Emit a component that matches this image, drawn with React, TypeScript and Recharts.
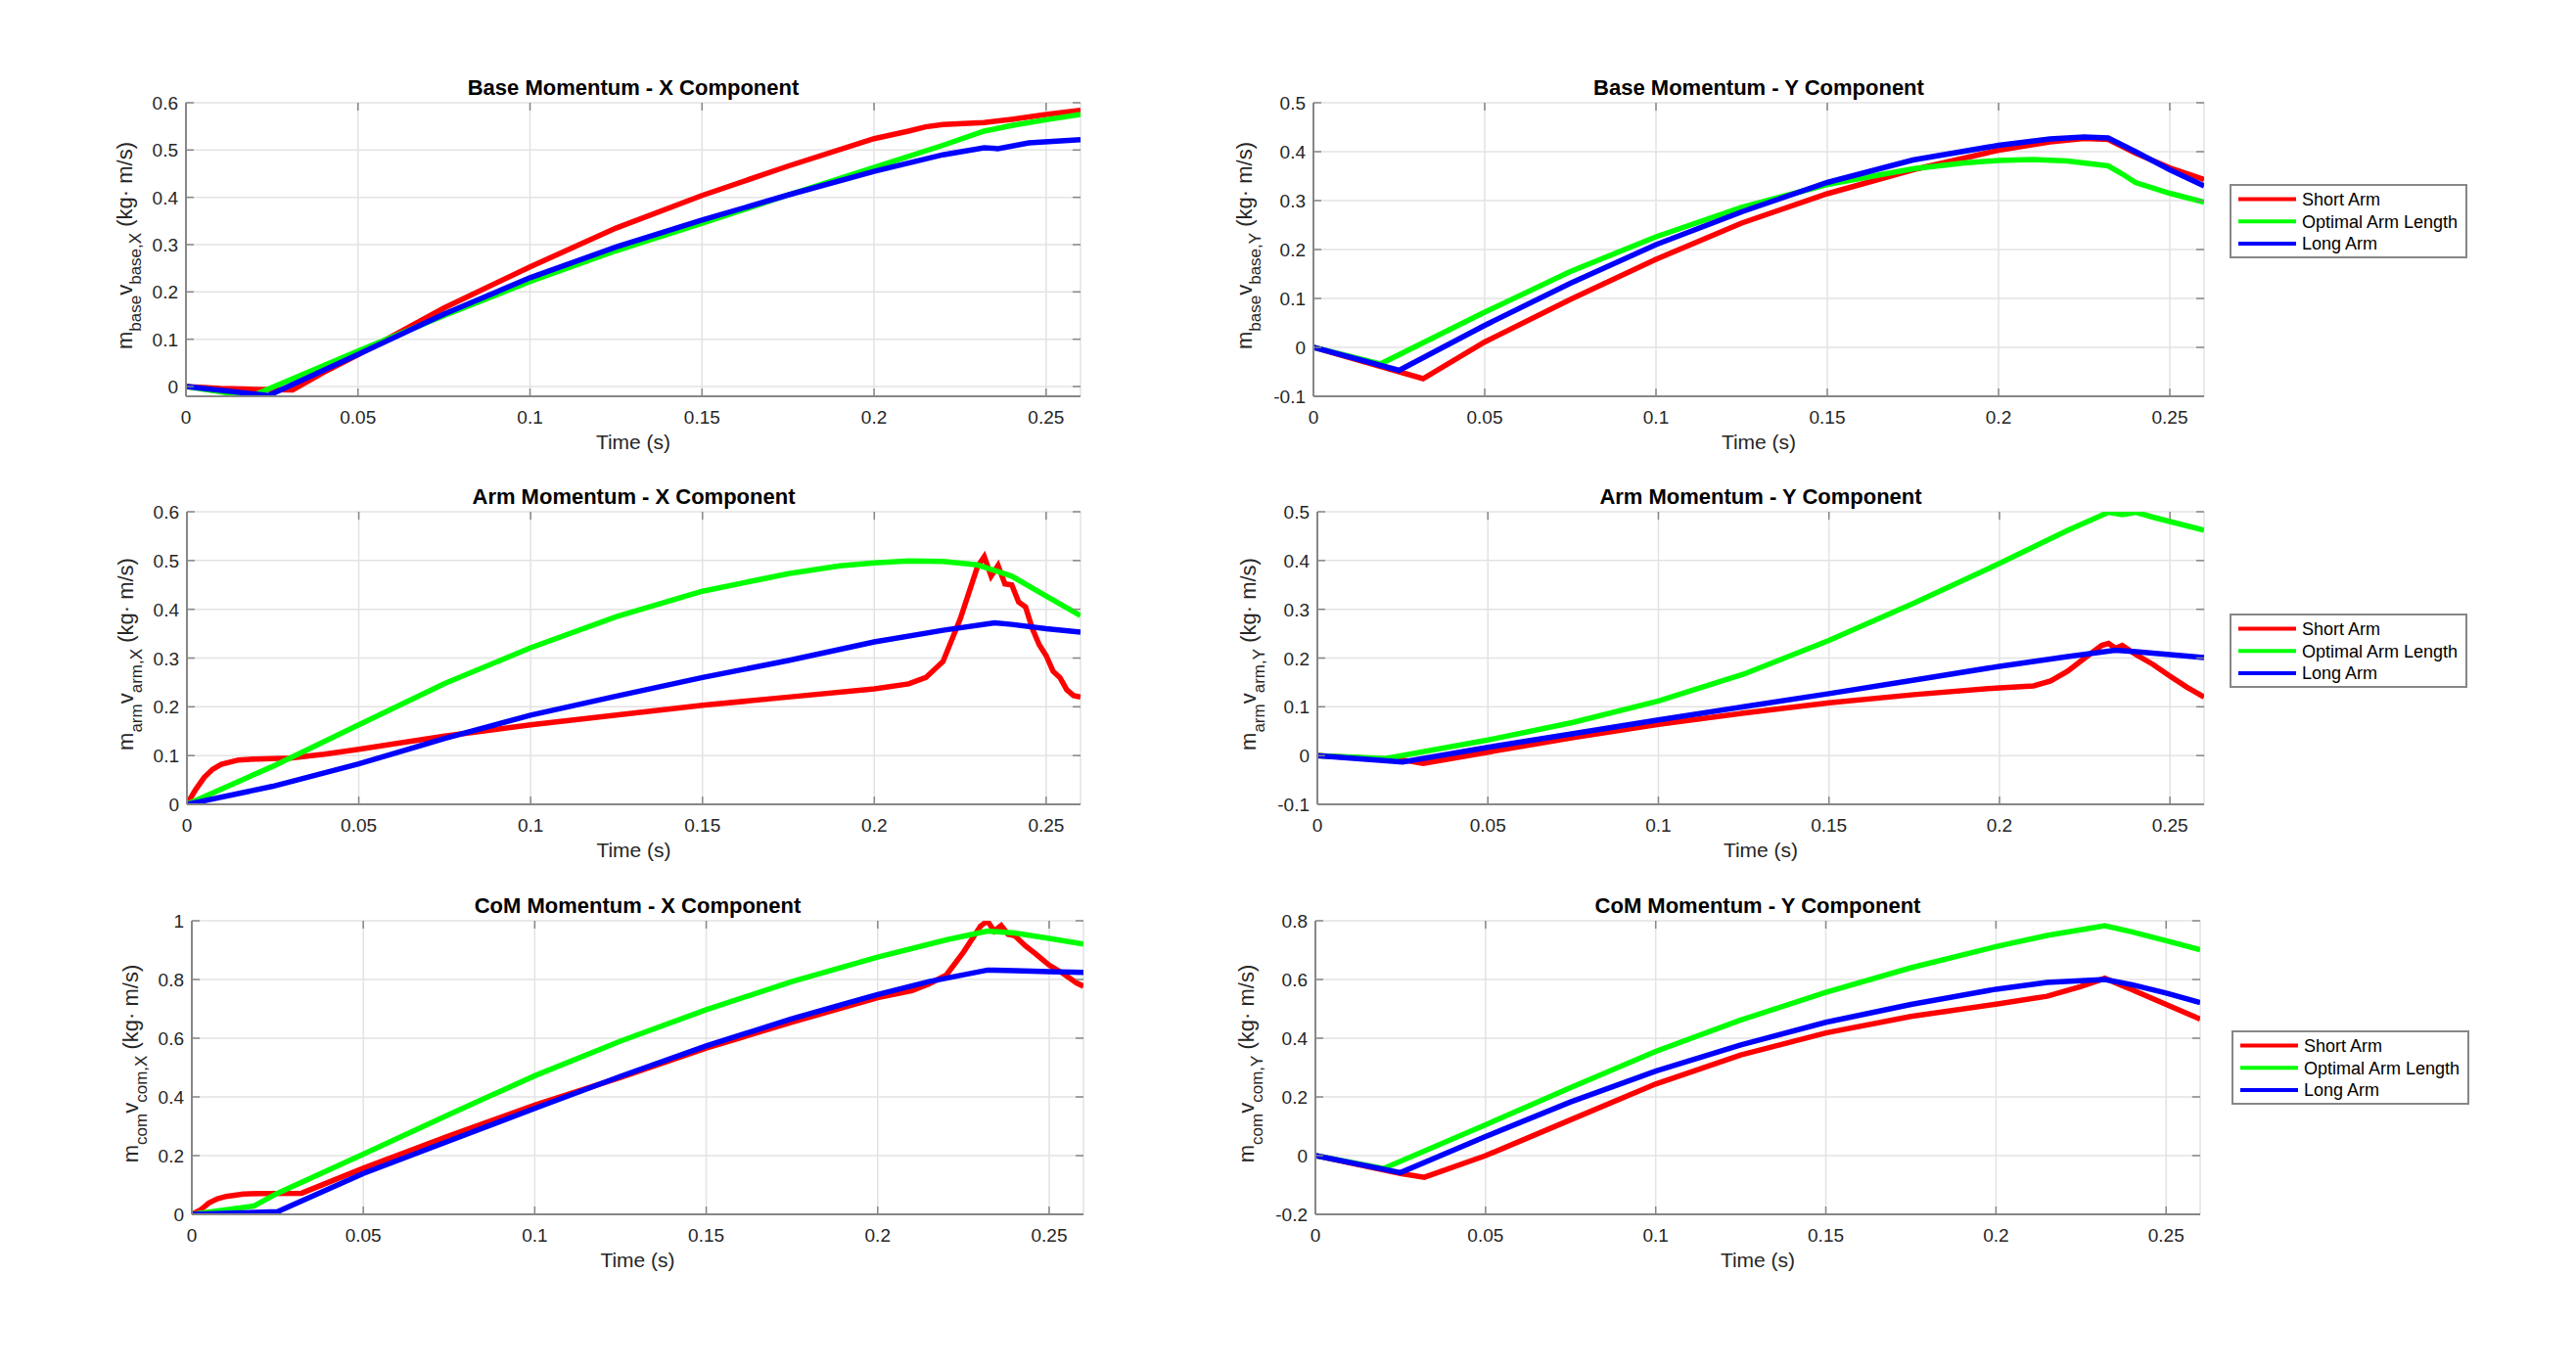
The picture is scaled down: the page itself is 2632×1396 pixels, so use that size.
import { LineChart, Line, XAxis, YAxis, CartesianGrid, Legend } from "recharts";

const FONT = '"Liberation Sans", Arial, Helvetica, sans-serif';
const AXIS = "#878787";
const GRID = "#e3e3e3";
const TEXT = "#262626";
const TICK_LEN = 8;

const PAD_L = 190;
const PAD_T = 60;
const PAD_B = 80;

const timeTicks = [0, 0.05, 0.1, 0.15, 0.2, 0.25];
const seriesNames = ["Short Arm", "Optimal Arm Length", "Long Arm"];
const seriesColors = ["#ff0000", "#00ff00", "#0000ff"];

// Base momentum - X
const baseXShortT = [0, 0.01, 0.02, 0.031, 0.04, 0.05, 0.075, 0.1, 0.125, 0.15, 0.175, 0.2, 0.21, 0.215, 0.22, 0.232, 0.24, 0.25, 0.26];
const baseXShortV = [0, -0.004, -0.006, -0.007, 0.03, 0.067, 0.166, 0.253, 0.335, 0.404, 0.466, 0.524, 0.54, 0.549, 0.554, 0.558, 0.565, 0.575, 0.584];
const baseXOptT = [0, 0.019, 0.025, 0.05, 0.075, 0.1, 0.125, 0.15, 0.175, 0.2, 0.22, 0.232, 0.24, 0.25, 0.26];
const baseXOptV = [0, -0.021, -0.002, 0.075, 0.15, 0.222, 0.287, 0.345, 0.405, 0.463, 0.51, 0.54, 0.552, 0.564, 0.575];
const baseXLongT = [0, 0.024, 0.05, 0.075, 0.1, 0.125, 0.15, 0.175, 0.2, 0.22, 0.232, 0.236, 0.245, 0.26];
const baseXLongV = [0, -0.019, 0.068, 0.153, 0.23, 0.295, 0.352, 0.405, 0.455, 0.49, 0.505, 0.503, 0.515, 0.522];

// Base momentum - Y
const baseYShortT = [0, 0.032, 0.05, 0.075, 0.1, 0.125, 0.15, 0.175, 0.2, 0.215, 0.225, 0.232, 0.24, 0.25, 0.26];
const baseYShortV = [0, -0.064, 0.011, 0.098, 0.18, 0.254, 0.314, 0.363, 0.403, 0.42, 0.427, 0.425, 0.397, 0.367, 0.343];
const baseYOptT = [0, 0.0195, 0.05, 0.075, 0.1, 0.125, 0.15, 0.175, 0.19, 0.2, 0.21, 0.22, 0.232, 0.236, 0.24, 0.25, 0.26];
const baseYOptV = [0, -0.034, 0.072, 0.155, 0.226, 0.286, 0.333, 0.365, 0.377, 0.382, 0.384, 0.381, 0.371, 0.355, 0.337, 0.315, 0.297];
const baseYLongT = [0, 0.025, 0.05, 0.075, 0.1, 0.125, 0.15, 0.175, 0.2, 0.215, 0.225, 0.232, 0.24, 0.25, 0.26];
const baseYLongV = [0, -0.047, 0.045, 0.131, 0.21, 0.277, 0.337, 0.383, 0.413, 0.426, 0.43, 0.428, 0.4, 0.363, 0.33];

// Arm momentum - X
const armXShortT = [0, 0.0025, 0.005, 0.0075, 0.01, 0.015, 0.02, 0.03, 0.04, 0.05, 0.075, 0.1, 0.125, 0.15, 0.175, 0.2, 0.21, 0.215, 0.22, 0.225, 0.23, 0.232, 0.234, 0.236, 0.238, 0.24, 0.242, 0.244, 0.246, 0.248, 0.25, 0.252, 0.254, 0.256, 0.258, 0.26];
const armXShortV = [0, 0.03, 0.055, 0.072, 0.082, 0.091, 0.093, 0.095, 0.103, 0.113, 0.14, 0.163, 0.183, 0.203, 0.22, 0.237, 0.247, 0.26, 0.293, 0.38, 0.487, 0.508, 0.468, 0.49, 0.452, 0.45, 0.415, 0.405, 0.36, 0.327, 0.305, 0.273, 0.26, 0.235, 0.223, 0.22];
const armXOptT = [0, 0.025, 0.05, 0.075, 0.1, 0.125, 0.15, 0.175, 0.19, 0.2, 0.21, 0.22, 0.23, 0.24, 0.25, 0.26];
const armXOptV = [0, 0.078, 0.163, 0.248, 0.321, 0.385, 0.437, 0.473, 0.489, 0.495, 0.499, 0.498, 0.491, 0.468, 0.427, 0.387];
const armXLongT = [0, 0.025, 0.05, 0.075, 0.1, 0.125, 0.15, 0.175, 0.2, 0.22, 0.235, 0.24, 0.25, 0.26];
const armXLongV = [0, 0.037, 0.083, 0.135, 0.183, 0.222, 0.26, 0.295, 0.333, 0.357, 0.372, 0.369, 0.36, 0.353];

// Arm momentum - Y
const armYShortT = [0, 0.025, 0.031, 0.05, 0.075, 0.1, 0.125, 0.15, 0.175, 0.2, 0.21, 0.215, 0.22, 0.225, 0.23, 0.232, 0.234, 0.236, 0.24, 0.245, 0.25, 0.255, 0.26];
const armYShortV = [0, -0.009, -0.016, 0.007, 0.037, 0.064, 0.087, 0.108, 0.125, 0.139, 0.143, 0.153, 0.173, 0.2, 0.226, 0.23, 0.22, 0.226, 0.207, 0.187, 0.163, 0.14, 0.12];
const armYOptT = [0, 0.02, 0.05, 0.075, 0.1, 0.125, 0.15, 0.175, 0.2, 0.22, 0.232, 0.236, 0.24, 0.245, 0.25, 0.26];
const armYOptV = [0, -0.006, 0.032, 0.068, 0.112, 0.167, 0.236, 0.313, 0.394, 0.462, 0.499, 0.494, 0.499, 0.489, 0.48, 0.462];
const armYLongT = [0, 0.025, 0.05, 0.075, 0.1, 0.125, 0.15, 0.175, 0.2, 0.22, 0.234, 0.24, 0.25, 0.26];
const armYLongV = [0, -0.013, 0.017, 0.045, 0.073, 0.1, 0.127, 0.155, 0.183, 0.203, 0.216, 0.213, 0.207, 0.201];

// CoM momentum - X
const comXShortT = [0, 0.0025, 0.005, 0.0075, 0.01, 0.015, 0.02, 0.032, 0.05, 0.075, 0.1, 0.125, 0.15, 0.175, 0.2, 0.21, 0.215, 0.22, 0.225, 0.23, 0.232, 0.234, 0.236, 0.238, 0.24, 0.243, 0.246, 0.25, 0.254, 0.258, 0.26];
const comXShortV = [0, 0.015, 0.039, 0.053, 0.061, 0.069, 0.071, 0.072, 0.157, 0.267, 0.372, 0.466, 0.566, 0.655, 0.738, 0.762, 0.785, 0.815, 0.893, 0.982, 0.999, 0.965, 0.984, 0.954, 0.949, 0.915, 0.888, 0.849, 0.821, 0.788, 0.777];
const comXOptT = [0, 0.018, 0.025, 0.05, 0.075, 0.1, 0.125, 0.15, 0.175, 0.2, 0.22, 0.232, 0.24, 0.25, 0.26];
const comXOptV = [0, 0.028, 0.072, 0.205, 0.34, 0.472, 0.59, 0.697, 0.793, 0.876, 0.935, 0.965, 0.958, 0.94, 0.921];
const comXLongT = [0, 0.025, 0.05, 0.075, 0.1, 0.125, 0.15, 0.175, 0.2, 0.215, 0.232, 0.24, 0.25, 0.26];
const comXLongV = [0, 0.009, 0.139, 0.25, 0.361, 0.47, 0.574, 0.666, 0.749, 0.793, 0.832, 0.83, 0.827, 0.824];

// CoM momentum - Y
const comYShortT = [0, 0.025, 0.032, 0.05, 0.075, 0.1, 0.125, 0.15, 0.175, 0.2, 0.215, 0.225, 0.232, 0.236, 0.24, 0.25, 0.26];
const comYShortV = [0, -0.061, -0.074, 0.0, 0.122, 0.244, 0.343, 0.418, 0.474, 0.516, 0.543, 0.576, 0.604, 0.584, 0.565, 0.515, 0.465];
const comYOptT = [0, 0.02, 0.05, 0.075, 0.1, 0.125, 0.15, 0.175, 0.2, 0.215, 0.232, 0.24, 0.25, 0.26];
const comYOptV = [0, -0.044, 0.105, 0.232, 0.355, 0.462, 0.556, 0.64, 0.712, 0.75, 0.783, 0.762, 0.732, 0.701];
const comYLongT = [0, 0.025, 0.05, 0.075, 0.1, 0.125, 0.15, 0.175, 0.2, 0.215, 0.232, 0.24, 0.25, 0.26];
const comYLongV = [0, -0.058, 0.065, 0.183, 0.288, 0.377, 0.454, 0.515, 0.567, 0.59, 0.6, 0.582, 0.554, 0.521];

const yTicks06 = [0, 0.1, 0.2, 0.3, 0.4, 0.5, 0.6];
const yTicks05 = [-0.1, 0, 0.1, 0.2, 0.3, 0.4, 0.5];
const yTicks10 = [0, 0.2, 0.4, 0.6, 0.8, 1];
const yTicks08 = [-0.2, 0, 0.2, 0.4, 0.6, 0.8];

const zip = (t: number[], v: number[]) => t.map((x, i) => ({ t: x, v: v[i] }));

function XTick(props: any) {
  const { x, y, payload, plotH } = props;
  return (
    <g>
      <line x1={x} y1={y} x2={x} y2={y - TICK_LEN} stroke={AXIS} strokeWidth={1.5} />
      <line x1={x} y1={y - plotH} x2={x} y2={y - plotH + TICK_LEN} stroke={AXIS} strokeWidth={1.5} />
      <text x={x} y={y + 28} textAnchor="middle" fontSize={19} fontFamily={FONT} fill={TEXT}>
        {String(payload.value)}
      </text>
    </g>
  );
}

function YTick(props: any) {
  const { x, y, payload, plotW } = props;
  return (
    <g>
      <line x1={x} y1={y} x2={x + TICK_LEN} y2={y} stroke={AXIS} strokeWidth={1.5} />
      <line x1={x + plotW} y1={y} x2={x + plotW - TICK_LEN} y2={y} stroke={AXIS} strokeWidth={1.5} />
      <text x={x - 8} y={y + 7} textAnchor="end" fontSize={19} fontFamily={FONT} fill={TEXT}>
        {String(payload.value)}
      </text>
    </g>
  );
}

function MatlabLegend({ payload }: any) {
  // keep the plotting order (Recharts sorts legend items by name)
  const items = [...(payload ?? [])].sort(
    (a: any, b: any) => seriesNames.indexOf(a.value) - seriesNames.indexOf(b.value)
  );
  return (
    <svg width={243} height={76} style={{ display: "block" }}>
      <rect x={1} y={1} width={241} height={74} fill="#fff" stroke={AXIS} strokeWidth={2} />
      {items.map((it: any, i: number) => (
        <g key={it.value}>
          <line x1={9} x2={68} y1={15.5 + i * 22.7} y2={15.5 + i * 22.7} stroke={it.color} strokeWidth={4} />
          <text x={74} y={22 + i * 22.7} fontSize={18} fontFamily={FONT} fill="#000">
            {it.value}
          </text>
        </g>
      ))}
    </svg>
  );
}

type PanelProps = {
  left: number;
  top: number;
  w: number;
  h: number;
  title: string;
  body: string;
  comp: string;
  yDomain: [number, number];
  yTicks: number[];
  series: { t: number[]; v: number[] }[];
  labelGap: number;
  legend?: { x: number; y: number };
};

function Panel({ left, top, w, h, title, body, comp, yDomain, yTicks, series, labelGap, legend }: PanelProps) {
  const padR = legend ? 300 : 20;
  const chartLeft = left - PAD_L;
  const chartTop = top - PAD_T;
  return (
    <div style={{ position: "absolute", left: chartLeft, top: chartTop }}>
      <LineChart
        width={PAD_L + w + padR}
        height={PAD_T + h + PAD_B}
        margin={{ top: PAD_T, right: padR, bottom: 0, left: PAD_L - 80 }}
      >
        <CartesianGrid stroke={GRID} strokeWidth={1.5} />
        <XAxis
          dataKey="t"
          type="number"
          domain={[0, 0.26]}
          allowDataOverflow
          ticks={timeTicks}
          interval={0}
          height={PAD_B}
          tickSize={0}
          tickMargin={0}
          tickLine={false}
          axisLine={{ stroke: AXIS, strokeWidth: 2 }}
          tick={(p: any) => <XTick {...p} plotH={h} />}
          label={() => (
            <g>
              <text x={PAD_L + w / 2} y={PAD_T + h + 54} textAnchor="middle" fontSize={21} fontFamily={FONT} fill={TEXT}>
                Time (s)
              </text>
              <text x={PAD_L + w / 2} y={PAD_T - 8} textAnchor="middle" fontSize={22} fontWeight="bold" fontFamily={FONT} fill="#000">
                {title}
              </text>
            </g>
          )}
        />
        <XAxis
          xAxisId="top"
          orientation="top"
          type="number"
          domain={[0, 0.26]}
          height={0}
          tick={false}
          tickLine={false}
          axisLine={{ stroke: AXIS, strokeWidth: 2 }}
        />
        <YAxis
          type="number"
          domain={yDomain}
          allowDataOverflow
          ticks={yTicks}
          interval={0}
          width={80}
          tickSize={0}
          tickMargin={0}
          tickLine={false}
          axisLine={{ stroke: AXIS, strokeWidth: 2 }}
          tick={(p: any) => <YTick {...p} plotW={w} />}
          label={() => (
            <text
              transform={`translate(${PAD_L - labelGap},${PAD_T + h / 2 - 4}) rotate(-90)`}
              textAnchor="middle"
              fontSize={22}
              fontFamily={FONT}
              fill={TEXT}
            >
              m<tspan fontSize={17} dy={9}>{body}</tspan>
              <tspan dy={-9}>v</tspan>
              <tspan fontSize={17} dy={9}>{`${body},${comp}`}</tspan>
              <tspan dy={-9}>{" (kg\u00b7 m/s)"}</tspan>
            </text>
          )}
        />
        <YAxis
          yAxisId="right"
          orientation="right"
          type="number"
          domain={yDomain}
          width={0}
          tick={false}
          tickLine={false}
          axisLine={{ stroke: AXIS, strokeWidth: 2 }}
        />
        {series.map((s, i) => (
          <Line
            key={seriesNames[i]}
            data={zip(s.t, s.v)}
            dataKey="v"
            name={seriesNames[i]}
            type="linear"
            stroke={seriesColors[i]}
            strokeWidth={5.5}
            dot={false}
            isAnimationActive={false}
          />
        ))}
        {legend && (
          <Legend
            layout="vertical"
            align="center"
            verticalAlign="middle"
            wrapperStyle={{ left: legend.x - chartLeft, top: legend.y - chartTop, width: 243, height: 76 }}
            content={(p: any) => <MatlabLegend payload={p.payload} />}
          />
        )}
      </LineChart>
    </div>
  );
}

export default function App() {
  return (
    <div style={{ position: "absolute", left: 0, top: 0, width: 2632, height: 1396, background: "#fff", overflow: "hidden" }}>
      <Panel
        left={190} top={105} w={914} h={300}
        title="Base Momentum - X Component" body="base" comp="X"
        yDomain={[-0.0207, 0.6]} yTicks={yTicks06} labelGap={55}
        series={[
          { t: baseXShortT, v: baseXShortV },
          { t: baseXOptT, v: baseXOptV },
          { t: baseXLongT, v: baseXLongV },
        ]}
      />
      <Panel
        left={1342} top={105} w={910} h={300}
        title="Base Momentum - Y Component" body="base" comp="Y"
        yDomain={[-0.1, 0.5]} yTicks={yTicks05} labelGap={63}
        legend={{ x: 2278, y: 188 }}
        series={[
          { t: baseYShortT, v: baseYShortV },
          { t: baseYOptT, v: baseYOptV },
          { t: baseYLongT, v: baseYLongV },
        ]}
      />
      <Panel
        left={191} top={523} w={913} h={299}
        title="Arm Momentum - X Component" body="arm" comp="X"
        yDomain={[0, 0.6]} yTicks={yTicks06} labelGap={55}
        series={[
          { t: armXShortT, v: armXShortV },
          { t: armXOptT, v: armXOptV },
          { t: armXLongT, v: armXLongV },
        ]}
      />
      <Panel
        left={1346} top={523} w={906} h={299}
        title="Arm Momentum - Y Component" body="arm" comp="Y"
        yDomain={[-0.1, 0.5]} yTicks={yTicks05} labelGap={63}
        legend={{ x: 2278, y: 627 }}
        series={[
          { t: armYShortT, v: armYShortV },
          { t: armYOptT, v: armYOptV },
          { t: armYLongT, v: armYLongV },
        ]}
      />
      <Panel
        left={196} top={941} w={911} h={300}
        title="CoM Momentum - X Component" body="com" comp="X"
        yDomain={[0, 1]} yTicks={yTicks10} labelGap={55}
        series={[
          { t: comXShortT, v: comXShortV },
          { t: comXOptT, v: comXOptV },
          { t: comXLongT, v: comXLongV },
        ]}
      />
      <Panel
        left={1344} top={941} w={904} h={300}
        title="CoM Momentum - Y Component" body="com" comp="Y"
        yDomain={[-0.2, 0.8]} yTicks={yTicks08} labelGap={63}
        legend={{ x: 2280, y: 1053 }}
        series={[
          { t: comYShortT, v: comYShortV },
          { t: comYOptT, v: comYOptV },
          { t: comYLongT, v: comYLongV },
        ]}
      />
    </div>
  );
}
